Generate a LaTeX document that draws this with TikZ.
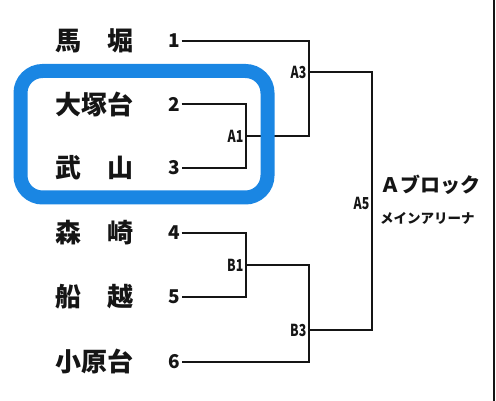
\documentclass[tikz,border=0pt]{standalone}
\usepackage{fontspec}
\setmainfont{Noto Sans CJK JP}
\usetikzlibrary{positioning}
\definecolor{brkInk}{HTML}{151515}
\definecolor{brkBlue}{HTML}{1A86E3}
\tikzset{
  every picture/.style={text=brkInk},
  brk team/.style={anchor=west, inner sep=0pt,
    font=\bfseries\fontsize{26}{26}\selectfont},
  brk seed/.style={anchor=east, inner sep=0pt, inner xsep=1.5pt,
    font=\bfseries\fontsize{19}{19}\selectfont},
  brk match/.style={anchor=east, inner sep=0pt, xshift=-2.5pt, xscale=0.75,
    font=\bfseries\fontsize{16.5}{16.5}\selectfont},
  brk block/.style={anchor=west, inner sep=0pt,
    font=\bfseries\fontsize{20}{20}\selectfont},
  brk venue/.style={anchor=west, inner sep=0pt,
    font=\bfseries\fontsize{13.5}{13.5}\selectfont},
  brk line/.style={draw=brkInk, line width=1.3pt},
  brk frame/.style={draw=brkBlue, line width=14pt, rounded corners=22pt}
}

\begin{document}
\begin{tikzpicture}[x=1pt,y=-1pt]
  \useasboundingbox (0,0) rectangle (496,401);
  % teams and seed numbers
  \foreach \i/\y/\nm in {1/41/馬　堀, 2/104/大塚台, 3/168/武　山,
                         4/233/森　崎, 5/297/船　越, 6/362/小原台} {
    \node[brk team] (t\i) at (55,\y) {\nm};
    \node[brk seed] (n\i) at (181.5,\y) {\i};
  }
  \coordinate (a1) at (246,136);
  \coordinate (a3) at (309,72);
  \coordinate (b1) at (246,265);
  \coordinate (b3) at (309,330);
  \coordinate (a5) at (372,203);
  \draw[brk line] (n2.east) -| (a1) |- (n3.east);
  \draw[brk line] (n1.east) -| (a3) |- (a1);
  \draw[brk line] (n4.east) -| (b1) |- (n5.east);
  \draw[brk line] (b1) -| (b3) |- (n6.east);
  \draw[brk line] (a3) -| (a5) |- (b3);
  \node[brk match] (la1) at (a1) {A1};
  \node[brk match] (la3) at (a3) {A3};
  \node[brk match] (lb1) at (b1) {B1};
  \node[brk match] (lb3) at (b3) {B3};
  \node[brk match] (la5) at (a5) {A5};
  \node[brk block] (blk) at (380,185) {Ａブロック};
  \node[brk venue] (arena) at (380,218) {メインアリーナ};
  % highlight frame
  \draw[brk frame] (20.5,71) rectangle (267.5,197.5);
  \draw[brk line] (494,0) -- (494,401);
\end{tikzpicture}
\end{document}
